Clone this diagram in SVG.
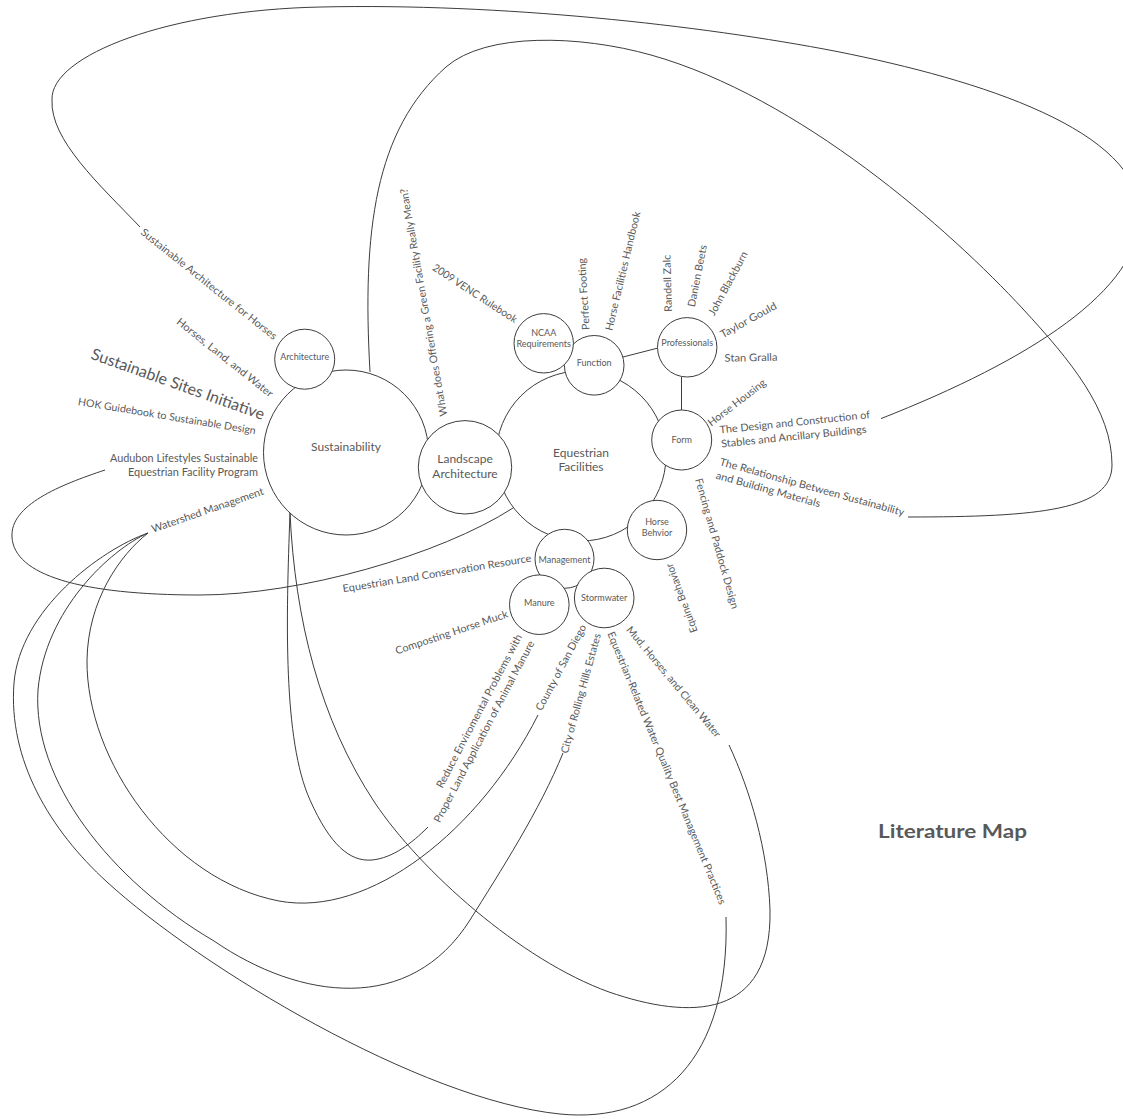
<svg xmlns="http://www.w3.org/2000/svg" width="1123" height="1119" viewBox="0 0 1123 1119">
<style>
.c{fill:#fff;stroke:#3c3c3c;stroke-width:1}
.ln{fill:none;stroke:#3c3c3c;stroke-width:1}
text{font-family:Lato,"Liberation Sans",sans-serif;fill:#595959}
.lb{font-size:10.5px}
.n9{font-size:9px;text-anchor:middle}
.n12{font-size:12px;text-anchor:middle}
.m{text-anchor:middle}
.e{text-anchor:end}
</style>
<rect width="1123" height="1119" fill="#fff"/>
<g id="connectors">
<path class="ln" d="M140,227 C100,185 50,140 52,100 C50,55 170,10 321,7 C500,3 700,25 837,51.5 C980,80 1140,130 1140,215 C1140,290 1030,360 881,418.6"/>
<path class="ln" d="M370,372 C362,230 375,130 446,67 C486,32 580,35 651,55 C800,97 950,230 1023,309 C1070,360 1112,410 1112,465 C1112,510 1040,517 908,517"/>
<path class="ln" d="M105,470 C60,485 10,505 12,537 C14,575 80,595 200,595 C300,595 440,555 513,508"/>
<path class="ln" d="M148,533 C100,550 20,610 14,683 C8,760 50,830 107,882 C200,967 420,1100 560,1114 C660,1124 730,1060 726,917"/>
<path class="ln" d="M148,533 C110,550 45,610 38,690 C32,780 110,880 214,941 C300,1000 410,1015 470,920 C500,872 540,810 563,753"/>
<path class="ln" d="M148,533 C120,555 88,600 87,660 C86,760 170,880 279,901 C370,918 480,830 538,715"/>
<path class="ln" d="M290,513 C286,620 283,740 310,800 C330,845 350,862 372,860 C393,858 412,843 428,827"/>
<path class="ln" d="M290,513 C295,620 320,720 375,803 C420,870 520,960 609,992 C690,1020 772,1020 770,910 C768,850 750,790 729,745"/>
<path class="ln" d="M623,357 L658,348"/>
<path class="ln" d="M681.5,377 L681.5,410"/>
</g>
<g id="equestrian-facilities"><circle class="c" cx="581" cy="456" r="85"/><text class="n12" x="581" y="456.5">Equestrian</text><text class="n12" x="581" y="471">Facilities</text></g>
<g id="sustainability"><circle class="c" cx="346" cy="452.5" r="82.5"/><text class="n12" x="346" y="451">Sustainability</text></g>
<g id="landscape-architecture"><circle class="c" cx="465" cy="467.3" r="46.7"/><text class="n12" x="465" y="463">Landscape</text><text class="n12" x="465" y="477.5">Architecture</text></g>
<g id="architecture"><circle class="c" cx="304.7" cy="359.2" r="30"/><text class="n9" x="304.7" y="360">Architecture</text></g>
<g id="function"><circle class="c" cx="594.2" cy="365.3" r="29.8"/><text class="n9" x="594.2" y="366">Function</text></g>
<g id="ncaa-requirements"><circle class="c" cx="543.7" cy="343.3" r="29.7"/><text class="n9" x="543.7" y="335.5">NCAA</text><text class="n9" x="543.7" y="346.5">Requirements</text></g>
<g id="professionals"><circle class="c" cx="687.2" cy="347.3" r="29.7"/><text class="n9" x="687.2" y="345.5">Professionals</text></g>
<g id="form"><circle class="c" cx="681.7" cy="440" r="30"/><text class="n9" x="681.7" y="443">Form</text></g>
<g id="horse-behvior"><circle class="c" cx="657" cy="530" r="29.7"/><text class="n9" x="657" y="525">Horse</text><text class="n9" x="657" y="536">Behvior</text></g>
<g id="management"><circle class="c" cx="564.5" cy="558.8" r="29.5"/><text class="n9" x="564.5" y="563">Management</text></g>
<g id="manure"><circle class="c" cx="539.3" cy="604.7" r="29.8"/><text class="n9" x="539.3" y="606">Manure</text></g>
<g id="stormwater"><circle class="c" cx="604.2" cy="598" r="29.8"/><text class="n9" x="604.2" y="601">Stormwater</text></g>
<g id="labels">
<text class="lb m" dy="0.35em" transform="translate(209,284) rotate(38.6)" textLength="171" lengthAdjust="spacingAndGlyphs">Sustainable Architecture for Horses</text>
<text class="lb m" dy="0.35em" transform="translate(225,357.5) rotate(38.5)" textLength="120" lengthAdjust="spacingAndGlyphs">Horses, Land, and Water</text>
<text class="m" style="font-size:16px" dy="0.35em" transform="translate(178,384) rotate(19.65)" textLength="183" lengthAdjust="spacingAndGlyphs">Sustainable Sites Initiative</text>
<text class="lb m" dy="0.35em" transform="translate(167,416) rotate(9.4)" textLength="180" lengthAdjust="spacingAndGlyphs">HOK Guidebook to Sustainable Design</text>
<text class="lb e" x="258" y="462" textLength="148" lengthAdjust="spacingAndGlyphs">Audubon Lifestyles Sustainable</text>
<text class="lb e" x="258" y="476" textLength="130" lengthAdjust="spacingAndGlyphs">Equestrian Facility Program</text>
<text class="lb m" dy="0.35em" transform="translate(207.5,510) rotate(-19.1)" textLength="118" lengthAdjust="spacingAndGlyphs">Watershed Management</text>
<text class="lb m" dy="0.35em" transform="translate(423.5,302.5) rotate(-100)" textLength="231" lengthAdjust="spacingAndGlyphs">What does Offering a Green Facility Really Mean?</text>
<text class="lb m" dy="0.35em" transform="translate(475,293.3) rotate(33.1)" textLength="98.5" lengthAdjust="spacingAndGlyphs">2009 VENC Rulebook</text>
<text class="lb m" dy="0.35em" transform="translate(583.7,294) rotate(-93.5)" textLength="72" lengthAdjust="spacingAndGlyphs">Perfect Footing</text>
<text class="lb m" dy="0.35em" transform="translate(622.7,271) rotate(-76.6)" textLength="122" lengthAdjust="spacingAndGlyphs">Horse Facilities Handbook</text>
<text class="lb m" dy="0.35em" transform="translate(667.5,283.3) rotate(-91.8)" textLength="57" lengthAdjust="spacingAndGlyphs">Randell Zalc</text>
<text class="lb m" dy="0.35em" transform="translate(697.2,275.8) rotate(-78.7)" textLength="63" lengthAdjust="spacingAndGlyphs">Danien Beets</text>
<text class="lb m" dy="0.35em" transform="translate(728,283.3) rotate(-61.6)" textLength="71" lengthAdjust="spacingAndGlyphs">John Blackburn</text>
<text class="lb m" dy="0.35em" transform="translate(748.3,320) rotate(-28.6)" textLength="62.5" lengthAdjust="spacingAndGlyphs">Taylor Gould</text>
<text class="lb m" dy="0.35em" transform="translate(751,357.5) rotate(-1)" textLength="53" lengthAdjust="spacingAndGlyphs">Stan Gralla</text>
<text class="lb m" dy="0.35em" transform="translate(736.7,402.5) rotate(-37.5)" textLength="70" lengthAdjust="spacingAndGlyphs">Horse Housing</text>
<g transform="translate(720,433.5) rotate(-5.8)"><text class="lb" x="0" y="0" textLength="151" lengthAdjust="spacingAndGlyphs">The Design and Construction of</text><text class="lb" x="0" y="14" textLength="146" lengthAdjust="spacingAndGlyphs">Stables and Ancillary Buildings</text></g>
<g transform="translate(719,465) rotate(15.5)"><text class="lb" x="0" y="0" textLength="191" lengthAdjust="spacingAndGlyphs">The Relationship Between Sustainability</text><text class="lb" x="0" y="14" textLength="108" lengthAdjust="spacingAndGlyphs">and Building Materials</text></g>
<text class="lb m" dy="0.35em" transform="translate(717,543.5) rotate(74.2)" textLength="135" lengthAdjust="spacingAndGlyphs">Fencing and Paddock Design</text>
<text class="lb m" dy="0.35em" transform="translate(681.5,598) rotate(-110.4)" textLength="73" lengthAdjust="spacingAndGlyphs">Equine Behavior</text>
<text class="lb m" dy="0.35em" transform="translate(437,573.3) rotate(-9.3)" textLength="191" lengthAdjust="spacingAndGlyphs">Equestrian Land Conservation Resource</text>
<text class="lb m" dy="0.35em" transform="translate(451.5,632.3) rotate(-18.5)" textLength="118" lengthAdjust="spacingAndGlyphs">Composting Horse Muck</text>
<g transform="translate(522.4,636.6) rotate(-62.2)"><text class="lb e" x="0" y="0" textLength="172" lengthAdjust="spacingAndGlyphs">Reduce Enviromental Problems with</text><text class="lb e" x="0" y="14" textLength="204" lengthAdjust="spacingAndGlyphs">Proper Land Application of Animal Manure</text></g>
<text class="lb m" dy="0.35em" transform="translate(560.8,667.5) rotate(-62)" textLength="96" lengthAdjust="spacingAndGlyphs">County of San Diego</text>
<text class="lb m" dy="0.35em" transform="translate(580.8,693.3) rotate(-74.4)" textLength="124" lengthAdjust="spacingAndGlyphs">City of Rolling Hills Estates</text>
<text class="lb m" dy="0.35em" transform="translate(666.8,768) rotate(67.5)" textLength="294" lengthAdjust="spacingAndGlyphs">Equestrian-Related Water Quality Best Management Practices</text>
<text class="lb m" dy="0.35em" transform="translate(673.7,681.7) rotate(50.2)" textLength="141" lengthAdjust="spacingAndGlyphs">Mud, Horses, and Clean Water</text>
</g>
<text id="title" x="952.5" y="838" text-anchor="middle" style="font-size:19px;font-weight:bold" textLength="149" lengthAdjust="spacingAndGlyphs">Literature Map</text>
</svg>
